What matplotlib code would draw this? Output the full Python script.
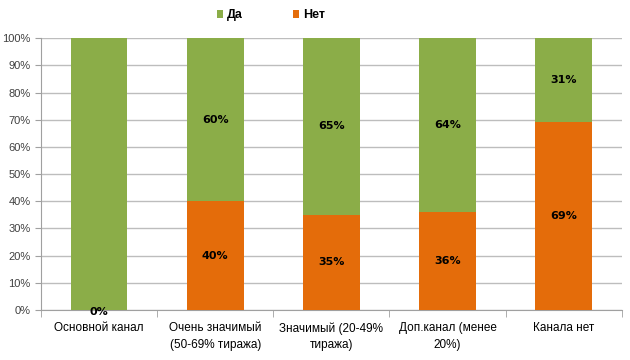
import matplotlib.pyplot as plt
import numpy as np

plt.rcParams['font.family'] = ['Liberation Sans', 'DejaVu Sans']

categories = ['Основной канал', 'Очень значимый\n(50-69% тиража)', 'Значимый (20-49%\nтиража)',
              'Доп.канал (менее\n20%)', 'Канала нет']
net = [0, 40, 35, 36, 69]
da = [100, 60, 65, 64, 31]

green = '#8BAD48'
orange = '#E46C0A'

fig = plt.figure(figsize=(6.3, 3.6), dpi=100)
ax = fig.add_axes([0.065, 0.139, 0.922, 0.755])

x = np.arange(len(categories))
w = 0.49
ax.bar(x, net, w, color=orange, label='Нет', zorder=3)
ax.bar(x, da, w, bottom=net, color=green, label='Да', zorder=3)

for i in range(len(categories)):
    if net[i] > 0:
        ax.text(x[i], net[i] / 2, f'{net[i]}%', ha='center', va='center', fontsize=8,
                fontweight='bold', family=['DejaVu Sans'], zorder=4)
        ax.text(x[i], net[i] + da[i] / 2, f'{da[i]}%', ha='center', va='center', fontsize=8,
                fontweight='bold', family=['DejaVu Sans'], zorder=4)
    else:
        ax.text(x[i], -0.8, f'{net[i]}%', ha='center', va='center', fontsize=8,
                fontweight='bold', family=['DejaVu Sans'], zorder=4)

ax.set_xlim(-0.5, len(categories) - 0.5)
ax.set_ylim(0, 100)
ax.set_yticks(range(0, 101, 10))
ax.set_yticklabels([f'{v}%' for v in range(0, 101, 10)], fontsize=8)
ax.yaxis.grid(True, color='#BDBDBD', linewidth=1, zorder=0)
ax.set_axisbelow(True)

ax.set_xticks(x)
ax.set_xticklabels(categories, fontsize=8.5, linespacing=1.5)
ax.tick_params(axis='x', length=0, pad=9)
ax.set_xticks(np.arange(-0.5, len(categories), 1), minor=True)
ax.tick_params(axis='x', which='minor', length=5, color='#A0A0A0')
ax.tick_params(axis='y', length=4, color='#A0A0A0', colors='#404040')
ax.tick_params(axis='x', colors='black')

for s in ['top', 'right']:
    ax.spines[s].set_visible(False)
for s in ['left', 'bottom']:
    ax.spines[s].set_color('#A0A0A0')

h, l = ax.get_legend_handles_labels()
fig.legend(h[::-1], l[::-1], loc='upper center', bbox_to_anchor=(0.43, 1.005), ncol=2,
           frameon=False, handlelength=0.5, handleheight=0.5,
           columnspacing=4.0, handletextpad=0.3, prop={'weight': 'bold', 'size': 9})

fig.savefig('out.png', dpi=100)
